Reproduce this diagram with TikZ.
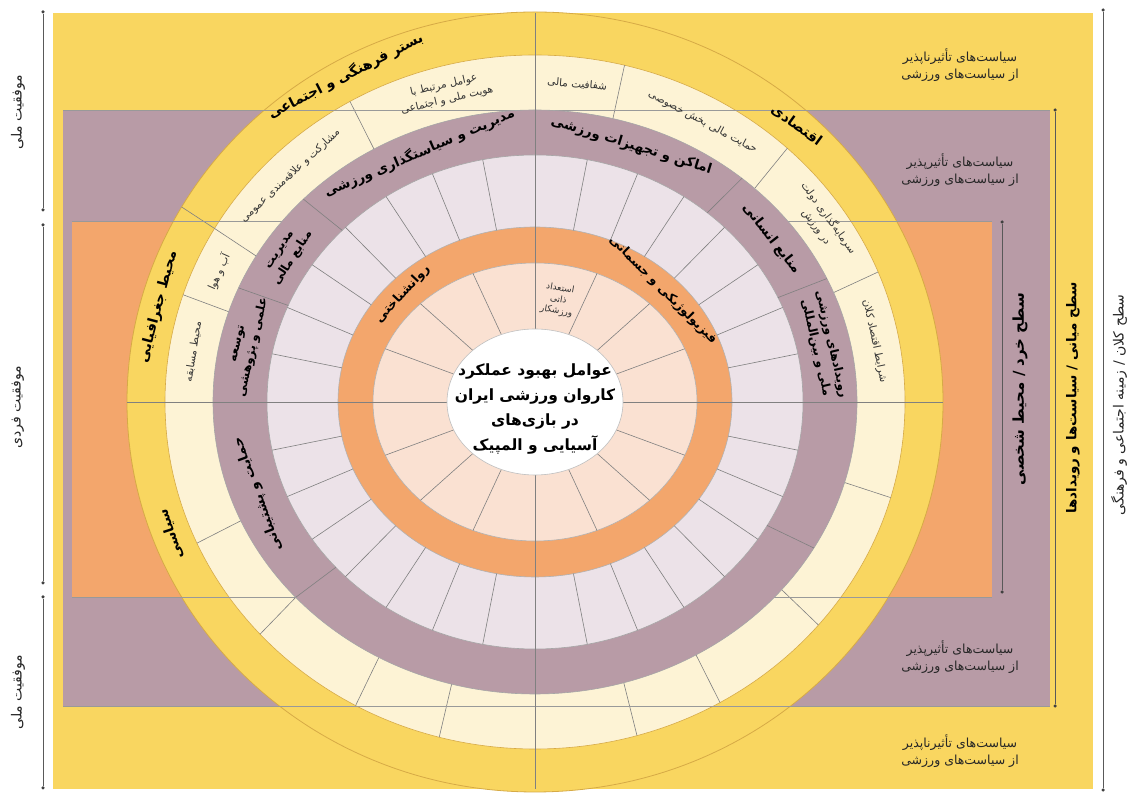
\documentclass[tikz,border=0pt]{standalone}
\usepackage{fontspec}
\usetikzlibrary{positioning}
\TeXXeTstate=1
\newfontfamily\fa[Script=Arabic]{DejaVu Sans}
\newcommand{\fat}[1]{\beginR #1\endR}
\definecolor{cyel}{RGB}{249,214,96}
\definecolor{cgold}{RGB}{214,170,70}
\definecolor{clyel}{RGB}{253,243,213}
\definecolor{cmauve}{RGB}{184,155,166}
\definecolor{clmauve}{RGB}{236,226,232}
\definecolor{corng}{RGB}{243,166,108}
\definecolor{cpeach}{RGB}{250,225,210}
\tikzset{
  ring_lbl/.style = {inner sep=0pt, font=\fa\bfseries\fontsize{14}{17}\selectfont},
  band_lbl/.style = {inner sep=0pt, align=center,
    font=\fa\bfseries\fontsize{13.5}{17}\selectfont},
  core_lbl/.style = {inner sep=0pt, font=\fa\bfseries\fontsize{12.5}{15}\selectfont},
  mid_lbl/.style = {inner sep=0pt, align=center,
    font=\fa\bfseries\fontsize{12}{16}\selectfont},
  cell_txt/.style = {inner sep=0pt, align=center, text=black!80,
    font=\fa\fontsize{10.5}{15}\selectfont},
  side_txt/.style = {inner sep=0pt, align=center, text=black!85,
    font=\fa\fontsize{12.5}{17}\selectfont},
  lvl_txt/.style = {inner sep=0pt, text=black!85, rotate=90,
    font=\fa\fontsize{14}{17}\selectfont},
  div_line/.style = {draw=black!50, line width=0.6pt},
  rect_line/.style = {draw=black!40, line width=0.6pt},
  brk/.style = {draw=black!65, line width=0.7pt},
  brk_dot/.style = {circle, fill=black!75, inner sep=0pt, minimum size=3.5pt}
}
\begin{document}
\begin{tikzpicture}[x=1pt,y=1pt]
\useasboundingbox (0,0) rectangle (1129,794);
\fill[white] (0,0) rectangle (1129,794);
% nested levels
\fill[cyel] (53,5) rectangle (1093,781);
\fill[cmauve] (63,88) rectangle (1050,684);
\fill[corng] (72,197) rectangle (992,573);

\begin{scope}[shift={(535,392)}]
% outer rings
\draw[fill=cyel, draw=cgold, line width=0.8pt] (0,0) ellipse [x radius=408, y radius=390];
\draw[fill=clyel, draw=cgold, line width=0.6pt] (0,0) ellipse [x radius=370, y radius=347];
\draw[div_line] (150:408 and 390) -- (150:370 and 347);
\foreach \a in {22,47,76,120,150,162,204,222,241,255,286,300,320,344}
  \draw[div_line] (\a:370 and 347) -- (\a:322 and 292);
% level lines across the outer rings
\draw[rect_line] (-472,292) -- (515,292);
\draw[rect_line] (-472,-304) -- (515,-304);
\draw[rect_line] (-463,181) -- (457,181);
\draw[rect_line] (-463,-195) -- (457,-195);
% inner rings
\draw[fill=cmauve, draw=black!35, line width=0.6pt] (0,0) ellipse [x radius=322, y radius=292];
\draw[fill=clmauve, draw=black!35, line width=0.6pt] (0,0) ellipse [x radius=268, y radius=247];
\draw[fill=corng, draw=black!30, line width=0.6pt] (0,0) ellipse [x radius=197, y radius=175];
\draw[fill=cpeach, draw=black!30, line width=0.6pt] (0,0) ellipse [x radius=162, y radius=139];
\foreach \a in {25,50,136,157,222,330}
  \draw[div_line] (\a:322 and 292) -- (\a:268 and 247);
\foreach \a in {0,11.25,...,349}
  \draw[div_line] (\a:268 and 247) -- (\a:197 and 175);
\foreach \a in {0,22.5,...,340}
  \draw[div_line] (\a:162 and 139) -- (\a:88 and 73);
% axes
\draw[div_line] (0,389) -- (0,-387);
\draw[div_line] (-408,0) -- (408,0);
\draw[fill=white, draw=black!25, line width=0.6pt] (0,0) ellipse [x radius=88, y radius=73];

% ring labels
\node[ring_lbl, rotate=27] (l_bastar) at (119:391 and 373) {\fat{بستر فرهنگی و اجتماعی}};
\node[ring_lbl, rotate=-36] (l_eghtesad) at (48:391 and 372) {\fat{اقتصادی}};
\node[ring_lbl, rotate=75] (l_joghrafi) at (165:390 and 369) {\fat{محیط جغرافیایی}};
\node[ring_lbl, rotate=108] (l_siasi) at (201:390 and 369) {\fat{سیاسی}};

\node[cell_txt, rotate=13] (c_hoviat) at (105:346 and 320) {\fat{عوامل مرتبط با}\\\fat{هویت ملی و اجتماعی}};
\node[cell_txt, rotate=43] (c_mosharekat) at (135:346 and 320) {\fat{مشارکت و علاقه‌مندی عمومی}};
\node[cell_txt, rotate=-5] (c_shafafiat) at (83:346 and 320) {\fat{شفافیت مالی}};
\node[cell_txt, rotate=-28] (c_hemayat) at (61:346 and 320) {\fat{حمایت مالی بخش خصوصی}};
\node[cell_txt, rotate=-54] (c_sarmaye) at (34:347 and 321) {\fat{سرمایه‌گذاری دولت}\\\fat{در ورزش}};
\node[cell_txt, rotate=-78] (c_kalan) at (11:346 and 320) {\fat{شرایط اقتصاد کلان}};
\node[cell_txt, rotate=66] (c_abohava) at (156:346 and 320) {\fat{آب و هوا}};
\node[cell_txt, rotate=81] (c_mosabeghe) at (171:346 and 320) {\fat{محیط مسابقه}};

\node[band_lbl, rotate=23] (m_modiriat) at (113:296 and 271) {\fat{مدیریت و سیاستگذاری ورزشی}};
\node[band_lbl, rotate=-17] (m_amaken) at (71:296 and 271) {\fat{اماکن و تجهیزات ورزشی}};
\node[band_lbl, rotate=-52] (m_ensani) at (37:296 and 271) {\fat{منابع انسانی}};
\node[mid_lbl, rotate=-77] (m_roydad) at (12:295 and 270) {\fat{رویدادهای ورزشی}\\\fat{ملی و بین‌المللی}};
\node[mid_lbl, rotate=57] (m_mali) at (147:295 and 270) {\fat{مدیریت}\\\fat{منابع مالی}};
\node[mid_lbl, rotate=77] (m_elmi) at (168:295 and 270) {\fat{توسعه}\\\fat{علمی و پژوهشی}};
\node[band_lbl, rotate=110] (m_poshtibani) at (200:295 and 270) {\fat{حمایت و پشتیبانی}};

\node[core_lbl, rotate=47] (o_ravan) at (137:181 and 158) {\fat{روانشناختی}};
\node[core_lbl, rotate=-45] (o_fiziki) at (45:181 and 158) {\fat{فیزیولوژیکی و جسمانی}};
\node[cell_txt, font=\fa\fontsize{9}{11.5}\selectfont, rotate=-10] (p_esteedad) at (79:122 and 104) {\fat{استعداد}\\\fat{ذاتی}\\\fat{ورزشکار}};

\node[inner sep=0pt, align=center, font=\fa\bfseries\fontsize{15.5}{25}\selectfont] (c_main) at (0,-7)
  {\fat{عوامل بهبود عملکرد}\\\fat{کاروان ورزشی ایران}\\\fat{در بازی‌های}\\\fat{آسیایی و المپیک}};
\end{scope}

% policy notes
\node[side_txt] (n_top) at (960,729) {\fat{سیاست‌های تأثیرناپذیر}\\\fat{از سیاست‌های ورزشی}};
\node[side_txt] (n_up) at (960,624) {\fat{سیاست‌های تأثیرپذیر}\\\fat{از سیاست‌های ورزشی}};
\node[side_txt] (n_low) at (960,137) {\fat{سیاست‌های تأثیرپذیر}\\\fat{از سیاست‌های ورزشی}};
\node[side_txt] (n_bot) at (960,43) {\fat{سیاست‌های تأثیرناپذیر}\\\fat{از سیاست‌های ورزشی}};

% brackets
\node[brk_dot] (b_l1) at (43,782) {};
\node[brk_dot] (b_l2) at (43,584) {};
\node[brk_dot] (b_l3) at (43,569) {};
\node[brk_dot] (b_l4) at (43,211) {};
\node[brk_dot] (b_l5) at (43,197) {};
\node[brk_dot] (b_l6) at (43,6) {};
\draw[brk] (b_l1) -- (b_l2);
\draw[brk] (b_l3) -- (b_l4);
\draw[brk] (b_l5) -- (b_l6);
\node[brk_dot] (b_r1) at (1103,784) {};
\node[brk_dot] (b_r2) at (1103,4) {};
\draw[brk] (b_r1) -- (b_r2);
\node[brk_dot] (b_m1) at (1055,684) {};
\node[brk_dot] (b_m2) at (1055,88) {};
\draw[brk] (b_m1) -- (b_m2);
\node[brk_dot] (b_i1) at (1002,572) {};
\node[brk_dot] (b_i2) at (1002,202) {};
\draw[brk] (b_i1) -- (b_i2);

% level names
\node[lvl_txt] (s_melli1) at (18,682) {\fat{موفقیت ملی}};
\node[lvl_txt] (s_fardi) at (18,387) {\fat{موفقیت فردی}};
\node[lvl_txt] (s_melli2) at (18,102) {\fat{موفقیت ملی}};
\node[lvl_txt] (s_kalan) at (1119,389) {\fat{سطح کلان / زمینه اجتماعی و فرهنگی}};
\node[band_lbl, rotate=90] (s_miani) at (1073,396) {\fat{سطح میانی / سیاست‌ها و رویدادها}};
\node[band_lbl, font=\fa\bfseries\fontsize{15}{18}\selectfont, rotate=90] (s_khord) at (1020,405) {\fat{سطح خرد / محیط شخصی}};
\end{tikzpicture}
\end{document}
